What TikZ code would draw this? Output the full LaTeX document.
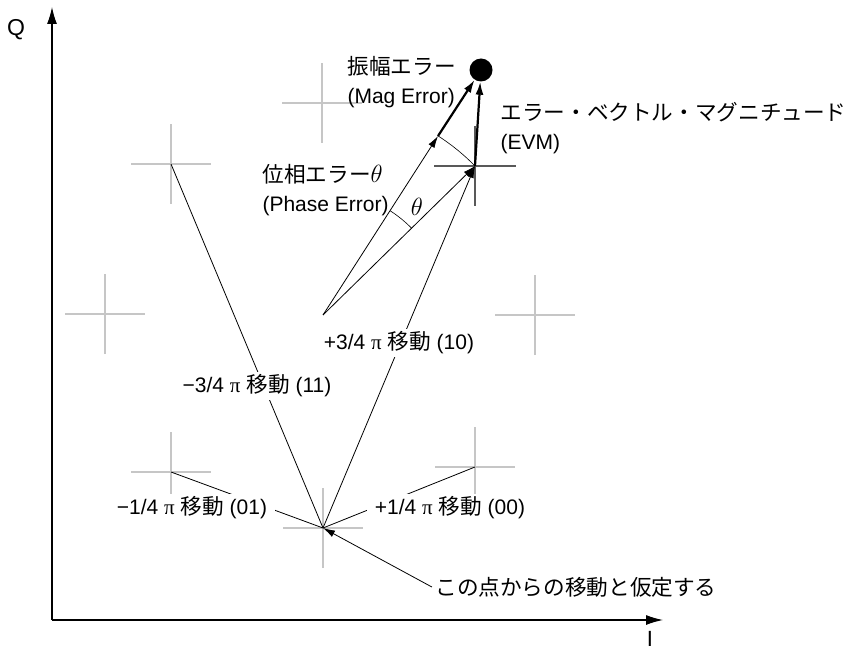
\documentclass[tikz,border=0pt]{standalone}
\usepackage{fontspec}
\setmainfont{Liberation Sans}
\newfontfamily\jpfont[Scale=1.03]{Noto Sans CJK JP}
\newfontfamily\pifont{Liberation Serif}
\usetikzlibrary{arrows.meta}

\begin{document}
\begin{tikzpicture}[x=1pt,y=-1pt,line join=round,
  font=\fontsize{21}{29}\selectfont,
  ptcross/.style={gray!45,line width=2pt},
  refcross/.style={black!65,line width=2pt},
  vec/.style={line width=0.8pt,-{Latex[length=12pt,width=7pt]}},
  errvec/.style={line width=2.2pt,-{Latex[length=13pt,width=8pt]}},
  axis/.style={line width=1.2pt,-{Latex[length=17pt,width=10pt]}},
  lbl/.style={fill=white,inner xsep=8pt,inner ysep=3pt}]
  \useasboundingbox (0,0) rectangle (848,652);
  % axes
  \coordinate (corner) at (52,620);
  \coordinate (qtip) at (52,7);
  \coordinate (itip) at (663,620);
  \draw[axis] (corner) -- (qtip);
  \draw[axis] (corner) -- (itip);
  \node[font=\fontsize{23}{23}\selectfont] (qlbl) at (16,30) {Q};
  \node[font=\fontsize{22}{22}\selectfont,inner sep=0pt] (ilbl) at (650,639) {I};
  % constellation points
  \coordinate (ptop) at (322,103);
  \coordinate (pul) at (171,164);
  \coordinate (pleft) at (105,314);
  \coordinate (pright) at (535,315);
  \coordinate (pll) at (171,472);
  \coordinate (plr) at (475,467);
  \coordinate (o) at (323,528);
  \coordinate (ideal) at (475,166);
  \coordinate (c) at (323,315);
  \coordinate (meas) at (438,136);
  \foreach \p in {ptop,pul,pleft,pright,pll,plr,o}
    \draw[ptcross] ([xshift=-40pt]\p) -- ([xshift=40pt]\p)
                   ([yshift=-40pt]\p) -- ([yshift=40pt]\p);
  \draw[refcross] ([xshift=-41pt]ideal) -- ([xshift=41pt]ideal)
                  ([yshift=-40pt]ideal) -- ([yshift=40pt]ideal);
  \node[circle,fill=black,minimum size=23pt,inner sep=0pt] (dot) at (481,70) {};
  % transitions from the assumed start point
  \draw[line width=0.8pt] (o) -- (pul);
  \draw[line width=0.8pt] (o) -- (pll);
  \draw[line width=0.8pt] (o) -- (plr);
  \draw[vec] (o) -- (ideal);
  % phase, magnitude and vector error
  \draw[vec] (c) -- (ideal);
  \draw[vec] (c) -- (meas);
  \draw[line width=0.6pt] (ideal) arc[start angle=-44.4,end angle=-57.2,radius=212.9];
  \draw[line width=0.6pt] (c) ++(-44.4:124) arc[start angle=-44.4,end angle=-57.2,radius=124];
  \draw[errvec] (meas) -- (dot);
  \draw[errvec] (ideal) -- (dot);
  \node[font=\fontsize{25}{25}\selectfont] (thlbl) at (417,207) {$\theta$};
  \node[anchor=west,align=left] (maglbl) at (344,82) {{\jpfont 振幅エラー}\\(Mag Error)};
  \node[anchor=west,align=left] (evmlbl) at (497,128) {{\jpfont エラー・ベクトル・マグニチュード}\\(EVM)};
  \node[anchor=west,align=left] (phaselbl) at (259,190) {{\jpfont 位相エラー}{\fontsize{24}{24}\selectfont$\theta$}\\(Phase Error)};
  % labels of the moves
  \node[lbl] (m34) at (257,386) {−3/4 {\pifont π} {\jpfont 移動} (11)};
  \node[lbl] (p34) at (399,343) {+3/4 {\pifont π} {\jpfont 移動} (10)};
  \node[lbl] (m14) at (192,508) {−1/4 {\pifont π} {\jpfont 移動} (01)};
  \node[lbl] (p14) at (450,508) {+1/4 {\pifont π} {\jpfont 移動} (00)};
  \node (note) at (576,587) {\jpfont この点からの移動と仮定する};
  \draw[vec] (note.west) -- (o);
\end{tikzpicture}
\end{document}
